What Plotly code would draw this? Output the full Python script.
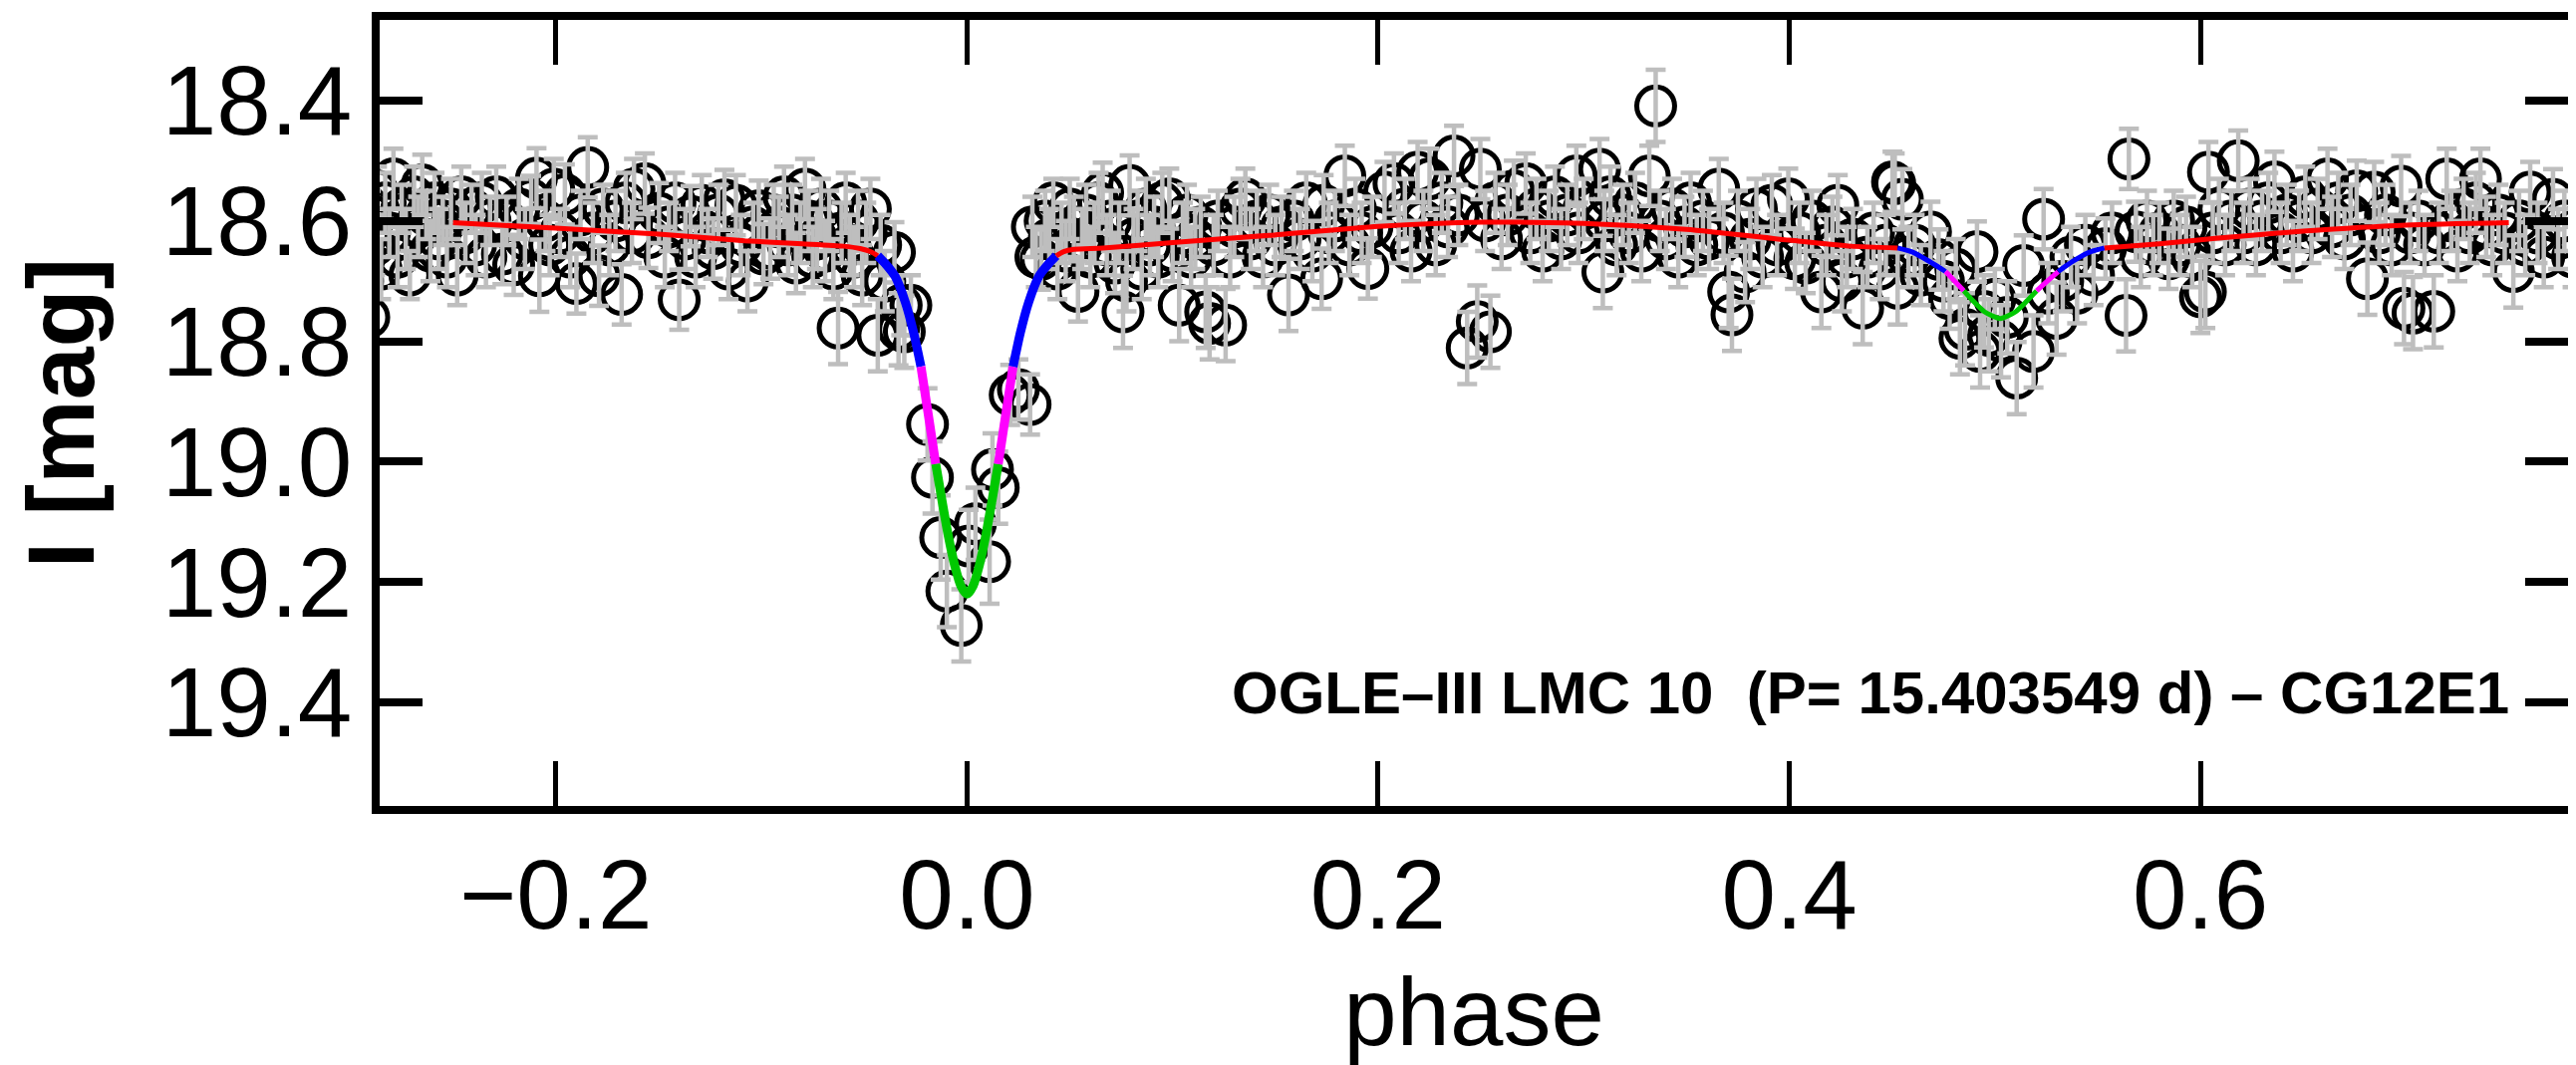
import plotly.graph_objects as go

# ---------------- observed photometry (phase, I mag, error) ----------------
phase = [
    -0.296, -0.294, -0.293, -0.291, -0.290, -0.288, -0.287, -0.285, -0.283, -0.281,
    -0.279, -0.277, -0.275, -0.273, -0.271, -0.269, -0.267, -0.265, -0.263, -0.261,
    -0.259, -0.257, -0.255, -0.253, -0.251, -0.248, -0.246, -0.244, -0.241, -0.239,
    -0.236, -0.234, -0.232,
    -0.229, -0.226, -0.224, -0.2205, -0.218, -0.215, -0.212, -0.2094, -0.208, -0.205,
    -0.203, -0.201, -0.198, -0.1956, -0.193, -0.190, -0.188, -0.1845, -0.182, -0.179,
    -0.177, -0.174, -0.171, -0.168, -0.166, -0.163, -0.162,
    -0.1567, -0.155, -0.1498, -0.147, -0.145, -0.142, -0.140, -0.137, -0.1345, -0.132,
    -0.129, -0.126, -0.1235, -0.121, -0.118, -0.116, -0.1124, -0.110, -0.1068, -0.104,
    -0.1013, -0.099, -0.0957, -0.094,
    -0.0915, -0.089, -0.087, -0.085, -0.0832, -0.081, -0.0788, -0.077, -0.075, -0.073,
    -0.071, -0.069, -0.067, -0.065, -0.0627, -0.061, -0.059, -0.057, -0.055, -0.053,
    -0.051, -0.049, -0.047, -0.0434, -0.042, -0.040,
    -0.0353, -0.0333, -0.0320, -0.0305, -0.0273, -0.0192, -0.0168, -0.0128, -0.0098, -0.0028,
    0.0008, 0.0041, 0.011, 0.0124, 0.0152, 0.021, 0.025, 0.0307,
    0.0318, 0.0335, 0.036, 0.038, 0.040, 0.042, 0.044, 0.046, 0.048, 0.050,
    0.052, 0.054, 0.056, 0.058, 0.060, 0.062, 0.064, 0.066, 0.068, 0.070,
    0.072, 0.074, 0.0759, 0.0776, 0.0791, 0.081, 0.083, 0.085, 0.087, 0.089,
    0.091, 0.093, 0.095, 0.0984, 0.100,
    0.1032, 0.105, 0.107, 0.109, 0.111, 0.1137, 0.1161, 0.118, 0.120, 0.122,
    0.1258, 0.128, 0.130, 0.133, 0.1354, 0.138, 0.141, 0.144, 0.147, 0.150,
    0.153, 0.1564, 0.159, 0.162, 0.165, 0.168, 0.1725, 0.1735, 0.176, 0.179,
    0.1838, 0.186, 0.189, 0.192, 0.195, 0.197, 0.2031,
    0.2077, 0.210, 0.213, 0.216, 0.2192, 0.222, 0.225, 0.228, 0.231, 0.234,
    0.2369, 0.239, 0.2433, 0.2482, 0.2497, 0.252, 0.2546, 0.257, 0.260, 0.263,
    0.266, 0.2718, 0.274, 0.277, 0.280, 0.283, 0.286, 0.289, 0.292, 0.2964,
    0.2974, 0.300,
    0.3077, 0.3093, 0.310, 0.313, 0.316, 0.319, 0.322, 0.325, 0.328, 0.3319,
    0.335, 0.337, 0.340, 0.343, 0.346, 0.349, 0.352, 0.355, 0.358, 0.361,
    0.3657, 0.368, 0.3705, 0.3721, 0.375, 0.3785, 0.381, 0.384, 0.387, 0.3915,
    0.394, 0.3995,
    0.4027, 0.405, 0.408, 0.411, 0.4156, 0.418, 0.421, 0.4236, 0.4256, 0.428,
    0.431, 0.4357, 0.438, 0.441, 0.444, 0.447, 0.4502, 0.4513,
    0.4527, 0.455, 0.458, 0.461, 0.464, 0.4687, 0.4726, 0.475, 0.478, 0.481,
    0.483, 0.4855, 0.4913, 0.4928, 0.4947, 0.497, 0.500, 0.503, 0.506, 0.5106,
    0.514, 0.5188, 0.5237, 0.526, 0.530, 0.533, 0.537, 0.540, 0.544, 0.548,
    0.5538, 0.557, 0.5638, 0.5652, 0.5686,
    0.571, 0.574, 0.577, 0.580, 0.5845, 0.587, 0.590, 0.593, 0.596, 0.600,
    0.6024, 0.6039, 0.606, 0.609, 0.612, 0.615, 0.6184, 0.621, 0.624, 0.627,
    0.630, 0.633, 0.636, 0.639, 0.642, 0.645, 0.648,
    0.651, 0.654, 0.657, 0.6618, 0.664, 0.667, 0.670, 0.673, 0.676, 0.6812,
    0.6845, 0.687, 0.690, 0.693, 0.6976, 0.699, 0.702, 0.7034, 0.706, 0.709,
    0.7135, 0.716, 0.7198, 0.722, 0.725, 0.728, 0.731, 0.734, 0.7362, 0.739,
    0.742, 0.745, 0.748, 0.7522, 0.755, 0.758, 0.7604, 0.764, 0.767, 0.7715,
    0.774, 0.777, 0.781,
]

mag = [
    18.62, 18.70, 18.66, 18.76, 18.59, 18.64, 18.55, 18.68, 18.57, 18.62,
    18.53, 18.66, 18.58, 18.63, 18.69, 18.56, 18.61, 18.54, 18.59, 18.65,
    18.57, 18.63, 18.60, 18.66, 18.58, 18.69, 18.56, 18.62, 18.58, 18.64,
    18.57, 18.66, 18.60,
    18.56, 18.655, 18.60, 18.673, 18.58, 18.63, 18.565, 18.529, 18.691, 18.60,
    18.64, 18.547, 18.62, 18.556, 18.66, 18.704, 18.59, 18.511, 18.62, 18.691,
    18.58, 18.64, 18.60, 18.722, 18.57, 18.62, 18.547,
    18.538, 18.628, 18.587, 18.66, 18.61, 18.57, 18.731, 18.63, 18.592, 18.66,
    18.574, 18.62, 18.646, 18.59, 18.565, 18.68, 18.574, 18.64, 18.70, 18.61,
    18.583, 18.655, 18.646, 18.59,
    18.61, 18.56, 18.64, 18.59, 18.67, 18.62, 18.547, 18.60, 18.66, 18.63,
    18.58, 18.65, 18.60, 18.68, 18.778, 18.62, 18.57, 18.64, 18.66, 18.60,
    18.69, 18.62, 18.58, 18.79, 18.64, 18.70,
    18.652, 18.78, 18.74, 18.784, 18.74, 18.938, 19.026, 19.126, 19.215, 19.272,
    19.14, 19.103, 19.166, 19.013, 19.043, 18.889, 18.88, 18.905,
    18.61, 18.66, 18.664, 18.60, 18.63, 18.57, 18.68, 18.62, 18.65, 18.58,
    18.61, 18.717, 18.63, 18.59, 18.66, 18.62, 18.57, 18.553, 18.64, 18.60,
    18.67, 18.62, 18.751, 18.70, 18.541, 18.63, 18.60, 18.68, 18.58, 18.64,
    18.61, 18.66, 18.57, 18.563, 18.65,
    18.74, 18.62, 18.59, 18.66, 18.63, 18.61, 18.751, 18.77, 18.64, 18.60,
    18.773, 18.66, 18.61, 18.58, 18.563, 18.63, 18.60, 18.66, 18.59, 18.64,
    18.61, 18.723, 18.60, 18.63, 18.57, 18.65, 18.696, 18.574, 18.62, 18.60,
    18.525, 18.64, 18.58, 18.62, 18.679, 18.61, 18.552,
    18.538, 18.62, 18.58, 18.65, 18.519, 18.60, 18.53, 18.64, 18.57, 18.61,
    18.492, 18.59, 18.811, 18.767, 18.514, 18.60, 18.784, 18.57, 18.63, 18.59,
    18.55, 18.538, 18.62, 18.58, 18.65, 18.60, 18.56, 18.63, 18.59, 18.525,
    18.62, 18.58,
    18.514, 18.685, 18.60, 18.56, 18.64, 18.59, 18.62, 18.57, 18.65, 18.525,
    18.409, 18.60, 18.63, 18.58, 18.66, 18.61, 18.57, 18.64, 18.60, 18.63,
    18.547, 18.62, 18.718, 18.756, 18.60, 18.685, 18.63, 18.58, 18.66, 18.574,
    18.64, 18.563,
    18.663, 18.62, 18.67, 18.60, 18.718, 18.64, 18.61, 18.574, 18.70, 18.66,
    18.63, 18.745, 18.66, 18.62, 18.68, 18.64, 18.535, 18.538,
    18.712, 18.564, 18.66, 18.64, 18.69, 18.618, 18.664, 18.70, 18.729, 18.68,
    18.795, 18.78, 18.651, 18.817, 18.75, 18.79, 18.73, 18.80, 18.76, 18.861,
    18.674, 18.817, 18.597, 18.72, 18.762, 18.70, 18.66, 18.72, 18.64, 18.69,
    18.646, 18.62, 18.757, 18.497, 18.618,
    18.66, 18.60, 18.64, 18.62, 18.663, 18.60, 18.64, 18.61, 18.66, 18.726,
    18.718, 18.519, 18.62, 18.58, 18.64, 18.60, 18.50, 18.62, 18.58, 18.64,
    18.60, 18.57, 18.535, 18.62, 18.59, 18.65, 18.60,
    18.56, 18.62, 18.58, 18.53, 18.61, 18.57, 18.63, 18.59, 18.55, 18.696,
    18.552, 18.62, 18.59, 18.64, 18.542, 18.745, 18.62, 18.753, 18.60, 18.64,
    18.75, 18.62, 18.53, 18.60, 18.65, 18.58, 18.62, 18.57, 18.53, 18.61,
    18.64, 18.59, 18.62, 18.684, 18.60, 18.64, 18.552, 18.62, 18.66, 18.564,
    18.63, 18.60, 18.66,
]

err = [
    0.05, 0.06, 0.05, 0.06, 0.04, 0.05, 0.04, 0.05, 0.05, 0.04,
    0.05, 0.05, 0.04, 0.05, 0.04, 0.05, 0.05, 0.05, 0.04, 0.05,
    0.05, 0.05, 0.04, 0.05, 0.05, 0.05, 0.05, 0.05, 0.04, 0.05,
    0.05, 0.05, 0.04,
    0.05, 0.05, 0.04, 0.05, 0.05, 0.05, 0.04, 0.05, 0.06, 0.05,
    0.05, 0.05, 0.04, 0.05, 0.05, 0.05, 0.04, 0.05, 0.05, 0.05,
    0.04, 0.05, 0.05, 0.05, 0.05, 0.05, 0.05,
    0.05, 0.05, 0.05, 0.05, 0.04, 0.05, 0.05, 0.05, 0.05, 0.05,
    0.05, 0.04, 0.05, 0.05, 0.05, 0.05, 0.05, 0.05, 0.05, 0.04,
    0.05, 0.05, 0.05, 0.05,
    0.05, 0.05, 0.05, 0.05, 0.05, 0.05, 0.05, 0.05, 0.05, 0.05,
    0.05, 0.05, 0.05, 0.05, 0.06, 0.05, 0.05, 0.05, 0.05, 0.05,
    0.05, 0.05, 0.05, 0.06, 0.05, 0.05,
    0.05, 0.06, 0.05, 0.06, 0.05, 0.06, 0.06, 0.07, 0.06, 0.06,
    0.06, 0.06, 0.07, 0.06, 0.06, 0.05, 0.05, 0.05,
    0.05, 0.05, 0.05, 0.05, 0.05, 0.04, 0.05, 0.05, 0.05, 0.05,
    0.05, 0.05, 0.05, 0.05, 0.05, 0.05, 0.05, 0.05, 0.05, 0.05,
    0.05, 0.05, 0.06, 0.05, 0.05, 0.05, 0.05, 0.05, 0.05, 0.05,
    0.05, 0.05, 0.05, 0.05, 0.05,
    0.06, 0.05, 0.05, 0.05, 0.05, 0.05, 0.06, 0.06, 0.05, 0.05,
    0.06, 0.05, 0.05, 0.05, 0.05, 0.05, 0.05, 0.05, 0.05, 0.05,
    0.05, 0.06, 0.05, 0.05, 0.05, 0.05, 0.05, 0.05, 0.05, 0.05,
    0.05, 0.05, 0.05, 0.05, 0.05, 0.05, 0.05,
    0.05, 0.05, 0.05, 0.05, 0.05, 0.05, 0.05, 0.05, 0.05, 0.05,
    0.05, 0.05, 0.06, 0.06, 0.05, 0.05, 0.06, 0.05, 0.05, 0.05,
    0.05, 0.05, 0.05, 0.05, 0.05, 0.05, 0.05, 0.05, 0.05, 0.05,
    0.05, 0.05,
    0.05, 0.06, 0.05, 0.05, 0.05, 0.05, 0.05, 0.05, 0.05, 0.05,
    0.06, 0.05, 0.05, 0.05, 0.05, 0.05, 0.05, 0.05, 0.05, 0.05,
    0.05, 0.05, 0.06, 0.06, 0.05, 0.05, 0.05, 0.05, 0.05, 0.05,
    0.05, 0.05,
    0.05, 0.05, 0.05, 0.05, 0.06, 0.05, 0.05, 0.05, 0.05, 0.05,
    0.05, 0.06, 0.05, 0.05, 0.05, 0.05, 0.05, 0.05,
    0.06, 0.05, 0.05, 0.05, 0.05, 0.05, 0.05, 0.05, 0.05, 0.05,
    0.06, 0.06, 0.05, 0.06, 0.06, 0.06, 0.05, 0.06, 0.06, 0.06,
    0.05, 0.06, 0.05, 0.05, 0.06, 0.05, 0.05, 0.05, 0.05, 0.05,
    0.05, 0.05, 0.06, 0.05, 0.05,
    0.05, 0.05, 0.05, 0.05, 0.05, 0.05, 0.05, 0.05, 0.05, 0.06,
    0.06, 0.05, 0.05, 0.05, 0.05, 0.05, 0.05, 0.05, 0.05, 0.05,
    0.05, 0.05, 0.05, 0.05, 0.05, 0.05, 0.05,
    0.05, 0.05, 0.05, 0.05, 0.05, 0.05, 0.05, 0.05, 0.05, 0.06,
    0.05, 0.05, 0.05, 0.05, 0.05, 0.06, 0.05, 0.06, 0.05, 0.05,
    0.06, 0.05, 0.05, 0.05, 0.05, 0.05, 0.05, 0.05, 0.05, 0.05,
    0.05, 0.05, 0.05, 0.06, 0.05, 0.05, 0.05, 0.05, 0.05, 0.05,
    0.05, 0.05, 0.05,
]

# ---------------- light-curve model ----------------
model_phase = [
    -0.250, -0.200, -0.150, -0.108, -0.080, -0.060, -0.052, -0.047,
    -0.0434, -0.040, -0.035, -0.030, -0.026,
    -0.0224, -0.019,
    -0.0152, -0.012, -0.009, -0.006, -0.003, 0.000, 0.003, 0.006, 0.009, 0.012,
    0.0152, 0.019,
    0.0224, 0.026, 0.030, 0.035, 0.040,
    0.0434, 0.047, 0.052, 0.066, 0.100, 0.147, 0.200, 0.250, 0.300, 0.350, 0.400, 0.430,
    0.4527, 0.460, 0.468,
    0.476, 0.4805,
    0.4849, 0.490, 0.495, 0.5026, 0.510, 0.515,
    0.5203, 0.5255,
    0.5308, 0.538, 0.546,
    0.5533, 0.580, 0.6072, 0.650, 0.700, 0.750,
]
model_mag = [
    18.603, 18.612, 18.622, 18.633, 18.638, 18.642, 18.646, 18.651,
    18.658, 18.670, 18.692, 18.735, 18.785,
    18.842, 18.918,
    19.004, 19.068, 19.125, 19.172, 19.206, 19.220, 19.206, 19.172, 19.125, 19.068,
    19.004, 18.918,
    18.842, 18.785, 18.735, 18.692, 18.670,
    18.658, 18.651, 18.647, 18.645, 18.636, 18.624, 18.609, 18.602, 18.604, 18.614, 18.632, 18.642,
    18.645, 18.652, 18.667,
    18.684, 18.700,
    18.716, 18.735, 18.751, 18.762, 18.751, 18.735,
    18.716, 18.700,
    18.684, 18.667, 18.652,
    18.645, 18.638, 18.629, 18.617, 18.607, 18.603,
]
model_part = (
    ["out"] * 8 + ["p_ing"] * 5 + ["p_mid"] * 2 + ["p_core"] * 10 + ["p_mid"] * 2
    + ["p_ing"] * 5 + ["out"] * 12 + ["s_ing"] * 3 + ["s_mid"] * 2 + ["s_core"] * 6
    + ["s_mid"] * 2 + ["s_ing"] * 3 + ["out"] * 6
)

x_ticks = [-0.2, 0.0, 0.2, 0.4, 0.6]
y_ticks = [18.4, 18.6, 18.8, 19.0, 19.2, 19.4]
label_text = "OGLE\u2013III LMC 10  (P= 15.403549 d) \u2013 CG12E1"

# ---------------- styles ----------------
part_color = {"out": "#ff0000", "p_ing": "#0000ff", "p_mid": "#ff00ff", "p_core": "#00c800",
              "s_ing": "#0000ff", "s_mid": "#ff00ff", "s_core": "#00c800"}
part_width = {"out": 5, "p_ing": 9, "p_mid": 9, "p_core": 9,
              "s_ing": 5, "s_mid": 5, "s_core": 5}

FAMILY = "Liberation Sans, Arial, Helvetica, sans-serif"
TICK_FONT = dict(family=FAMILY, size=98, color="black")

fig = go.Figure()

# open circles
fig.add_trace(go.Scatter(
    x=phase, y=mag, mode="markers",
    marker=dict(symbol="circle-open", size=38, color="black", line=dict(width=5, color="black")),
    showlegend=False, hoverinfo="skip",
))
# grey error bars drawn on top of the circles
fig.add_trace(go.Scatter(
    x=phase, y=mag, mode="markers",
    marker=dict(size=2, color="rgba(0,0,0,0)"),
    error_y=dict(type="data", array=err, visible=True, color="#bebebe", thickness=4.5, width=10),
    showlegend=False, hoverinfo="skip",
))

# model curve, split into coloured runs
runs = []
start = 0
for i in range(1, len(model_part) + 1):
    if i == len(model_part) or model_part[i] != model_part[start]:
        end = min(i + 1, len(model_part))
        runs.append((model_part[start], start, end))
        start = i
for part, a, b in runs:
    fig.add_trace(go.Scatter(
        x=model_phase[a:b], y=model_mag[a:b], mode="lines",
        line=dict(color=part_color[part], width=part_width[part], shape="spline", smoothing=0.6),
        showlegend=False, hoverinfo="skip",
    ))

fig.add_annotation(
    x=0.751, y=19.384, xref="x", yref="y", text=label_text, showarrow=False,
    xanchor="right", yanchor="middle",
    font=dict(family=FAMILY, size=60, color="black", weight="bold"),
)

fig.update_xaxes(
    range=[-0.2857, 0.7788], tickvals=x_ticks, tickformat=".1f",
    ticks="inside", ticklen=45, tickwidth=5, tickcolor="black",
    showline=True, linewidth=8, linecolor="black", mirror="ticks",
    showgrid=False, zeroline=False, tickfont=TICK_FONT, ticklabelstandoff=-3,
    title=dict(text="phase", standoff=49, font=dict(family=FAMILY, size=96, color="black")),
)
fig.update_yaxes(
    range=[19.5719, 18.2661], tickvals=y_ticks, tickformat=".1f",
    ticks="inside", ticklen=43, tickwidth=8, tickcolor="black",
    showline=True, linewidth=8, linecolor="black", mirror="ticks",
    showgrid=False, zeroline=False, tickfont=TICK_FONT, ticklabelstandoff=0,
    title=dict(text="I [mag]", standoff=40,
               font=dict(family=FAMILY, size=95, color="black", weight="bold")),
)

fig.update_layout(
    width=2577, height=1061,
    margin=dict(l=373, r=0, t=12, b=259, pad=0),
    paper_bgcolor="white", plot_bgcolor="white",
    showlegend=False,
)

fig.write_html("out.html")
